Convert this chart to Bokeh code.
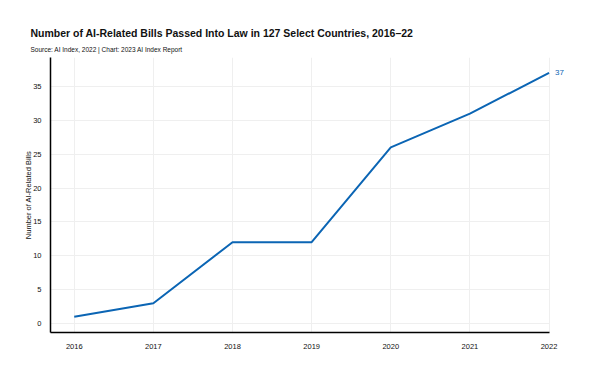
from bokeh.plotting import figure
from bokeh.models import Title, FixedTicker, ColumnDataSource, Range1d
from bokeh.embed import file_html
from bokeh.resources import INLINE
from bokeh.core.properties import value

years = [2016, 2017, 2018, 2019, 2020, 2021, 2022]
bills = [1, 3, 12, 12, 26, 31, 37]
y_ticks = [0, 5, 10, 15, 20, 25, 30, 35]

title_text = "Number of AI-Related Bills Passed Into Law in 127 Select Countries, 2016–22"
subtitle_text = "Source: AI Index, 2022 | Chart: 2023 AI Index Report"
y_label = "Number of AI-Related Bills"

FONT = "Liberation Sans"
LINE = "#0b65b4"

x_start = years[0] - 0.3
x_end = years[-1]

p = figure(width=584, height=364, output_backend="svg", toolbar_location=None,
           x_range=Range1d(x_start, years[-1] + 0.41), y_range=Range1d(-1.33, 39.28),
           min_border_left=50, min_border_right=3, min_border_top=57, min_border_bottom=32,
           title=None)

p.add_layout(Title(text=subtitle_text, text_font=FONT, text_font_size="6.5px",
                   text_font_style="normal", text_color="#111111", align="left",
                   offset=-20, standoff=10), "above")
p.add_layout(Title(text=title_text, text_font=FONT, text_font_size="10.5px",
                   text_font_style="bold", text_color="#111111", align="left",
                   offset=-20, standoff=0), "above")

src = ColumnDataSource(dict(x=years, y=bills))
p.line("x", "y", source=src, line_color=LINE, line_width=2)

end_src = ColumnDataSource(dict(x=[years[-1]], y=[bills[-1]], t=[str(bills[-1])]))
p.text("x", "y", text="t", source=end_src, x_offset=6, text_baseline="middle",
       text_align="left", text_font=value(FONT), text_font_size="8px", text_color=LINE)

p.outline_line_color = None
p.background_fill_color = "white"
p.border_fill_color = "white"

p.xaxis.ticker = FixedTicker(ticks=years)
p.yaxis.ticker = FixedTicker(ticks=y_ticks)
p.xaxis.bounds = (x_start, x_end)
for ax in (p.xaxis, p.yaxis):
    ax.axis_line_color = "#000000"
    ax.axis_line_width = 1.5
    ax.major_tick_line_color = None
    ax.minor_tick_line_color = None
    ax.major_label_text_font = FONT
    ax.major_label_text_font_size = "7.5px"
    ax.major_label_text_color = "#111111"
p.xaxis.major_label_standoff = 5
p.yaxis.major_label_standoff = 3
p.yaxis.axis_label = y_label
p.yaxis.axis_label_text_font = FONT
p.yaxis.axis_label_text_font_size = "7.5px"
p.yaxis.axis_label_text_font_style = "normal"
p.yaxis.axis_label_text_color = "#111111"
p.yaxis.axis_label_standoff = -3

p.xgrid.grid_line_color = "#efefef"
p.ygrid.grid_line_color = "#efefef"
p.ygrid.cross_bounds = (x_start, x_end)

open("out.html", "w").write(file_html(p, INLINE))
